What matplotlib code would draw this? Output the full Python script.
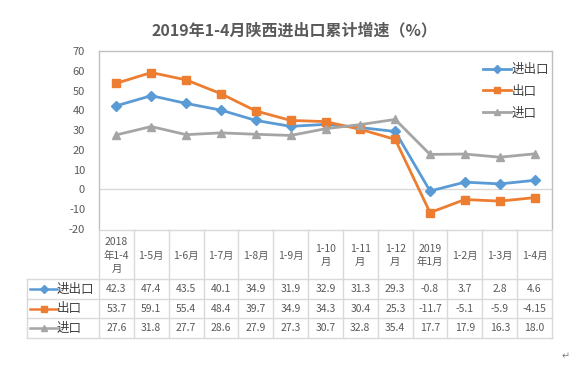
import matplotlib
matplotlib.use("Agg")
import matplotlib.pyplot as plt
from matplotlib.lines import Line2D

plt.rcParams['font.family'] = ['Noto Sans CJK SC', 'DejaVu Sans']
plt.rcParams['axes.unicode_minus'] = False

categories = ["2018\n年1-4\n月", "1-5月", "1-6月", "1-7月", "1-8月", "1-9月",
              "1-10\n月", "1-11\n月", "1-12\n月", "2019\n年1月", "1-2月", "1-3月", "1-4月"]
total = [42.3, 47.4, 43.5, 40.1, 34.9, 31.9, 32.9, 31.3, 29.3, -0.8, 3.7, 2.8, 4.6]
export = [53.7, 59.1, 55.4, 48.4, 39.7, 34.9, 34.3, 30.4, 25.3, -11.7, -5.1, -5.9, -4.15]
imp = [27.6, 31.8, 27.7, 28.6, 27.9, 27.3, 30.7, 32.8, 35.4, 17.7, 17.9, 16.3, 18.0]
total_lbl = ["42.3", "47.4", "43.5", "40.1", "34.9", "31.9", "32.9", "31.3", "29.3", "-0.8", "3.7", "2.8", "4.6"]
export_lbl = ["53.7", "59.1", "55.4", "48.4", "39.7", "34.9", "34.3", "30.4", "25.3", "-11.7", "-5.1", "-5.9", "-4.15"]
imp_lbl = ["27.6", "31.8", "27.7", "28.6", "27.9", "27.3", "30.7", "32.8", "35.4", "17.7", "17.9", "16.3", "18.0"]
series_names = ["进出口", "出口", "进口"]
colors = ["#5B9BD5", "#ED7D31", "#A5A5A5"]
markers = ["D", "s", "^"]
msizes = [5, 6, 6]
title = "2019年1-4月陕西进出口累计增速（%）"

W, H = 586, 367
fig = plt.figure(figsize=(W / 100, H / 100), dpi=100)
fig.patch.set_facecolor("white")

pl, pr, pt, pb = 99, 552, 51, 229
ax = fig.add_axes([pl / W, 1 - pb / H, (pr - pl) / W, (pb - pt) / H])
n = len(categories)
xs = list(range(n))
for vals, c, m, ms, name in zip([total, export, imp], colors, markers, msizes, series_names):
    ax.plot(xs, vals, color=c, lw=2, marker=m, ms=ms, label=name, zorder=3)
ax.set_xlim(-0.5, n - 0.5)
ax.set_ylim(-20, 70)
ax.set_yticks(range(-20, 71, 10))
ax.tick_params(axis='y', length=0, pad=10, labelsize=8, labelcolor="#595959")
ax.set_xticks([])
ax.axhline(0, color="#D9D9D9", lw=1, zorder=1)
for s in ["left", "top", "right"]:
    ax.spines[s].set_color("#BFBFBF")
    ax.spines[s].set_linewidth(1)
ax.spines["bottom"].set_visible(False)

leg = ax.legend(loc="upper right", frameon=False, fontsize=9, handlelength=2.2,
                labelspacing=0.7, borderaxespad=0.0, handletextpad=0.1,
                bbox_to_anchor=(1.005, 0.96), markerscale=0.8)
for t in leg.get_texts():
    t.set_color("#404040")

fig.text(294 / W, 1 - 30 / H, title, ha="center", va="center",
         fontsize=11.5, fontweight="bold", color="#595959")

# table overlay in pixel coordinates
tax = fig.add_axes([0, 0, 1, 1])
tax.set_xlim(0, W)
tax.set_ylim(H, 0)
tax.axis("off")
gc = "#D9D9D9"
cw = (pr - pl) / n
rows_y = [230, 279, 299, 318, 338]
lx = 27
tax.plot([pl, pr], [rows_y[0], rows_y[0]], color=gc, lw=1)
for y in rows_y[1:]:
    tax.plot([lx, pr], [y, y], color=gc, lw=1)
tax.plot([lx, lx], [rows_y[1], rows_y[-1]], color=gc, lw=1)
for i in range(n + 1):
    x = pl + i * cw
    tax.plot([x, x], [rows_y[0], rows_y[-1]], color=gc, lw=1)
tc = "#595959"
for i, lab in enumerate(categories):
    tax.text(pl + (i + 0.5) * cw, (rows_y[0] + rows_y[1]) / 2 + 1, lab, ha="center", va="center",
             fontsize=7.5, color=tc, linespacing=1.45)
for r, (lbls, c, m, name) in enumerate(zip([total_lbl, export_lbl, imp_lbl], colors, markers, series_names)):
    yc = (rows_y[r + 1] + rows_y[r + 2]) / 2
    for i, v in enumerate(lbls):
        tax.text(pl + (i + 0.5) * cw, yc, v, ha="center", va="center", fontsize=7.5, color=tc)
    tax.add_line(Line2D([30, 57], [yc, yc], color=c, lw=1.8))
    tax.plot([44], [yc], marker=m, color=c, ms=[4, 5, 5][r])
    tax.text(57, yc, name, ha="left", va="center", fontsize=9, color="#404040")

tax.text(566, 356, "↵", ha="center", va="center", fontsize=7, color="#808080")

fig.savefig("out.png", dpi=100)
